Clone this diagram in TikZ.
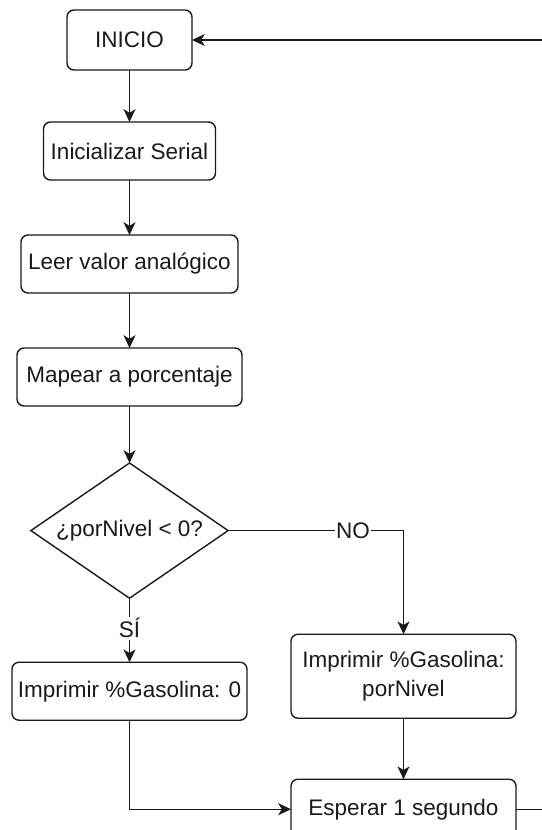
\documentclass[tikz,border=0pt]{standalone}
\usepackage{fontspec}
\setmainfont{Liberation Sans}
\usetikzlibrary{arrows.meta,positioning,shapes.geometric}
\definecolor{Ink}{HTML}{1A1A1A}
\definecolor{Paper}{HTML}{FFFFFF}
\tikzset{
  process/.style={
    rounded corners=5pt, draw=Ink, line width=1pt, fill=Paper, text=Ink,
    minimum width=5.625cm, minimum height=1.45cm, align=center,
    inner sep=2pt, outer sep=0pt, font=\fontsize{16}{20}\selectfont
  },
  decision/.style={
    diamond, aspect=1.46, draw=Ink, line width=1pt, fill=Paper, text=Ink,
    minimum width=4.93cm, minimum height=3.38cm, inner sep=0pt, outer sep=0pt,
    font=\fontsize{16}{20}\selectfont
  },
  branch/.style={fill=Paper, text=Ink, inner sep=1pt, font=\fontsize{16}{20}\selectfont},
  flow/.style={-{Stealth[length=3.2mm,width=3mm,inset=0.9mm]}, line width=1pt, draw=Ink}
}

\begin{document}
\begin{tikzpicture}[node distance=1.375cm]
    \useasboundingbox (0,0) rectangle (13.55,-20.75);
    \node[process,minimum width=3.125cm,minimum height=1.5cm] (start) at (3.2375,-1) {INICIO};
    \node[process,below=1.3cm of start,minimum width=4.3cm] (serial) {Inicializar Serial};
    \node[process,below=of serial,minimum width=5.425cm] (read) {Leer valor anal\'ogico};
    \node[process,below=of read] (map) {Mapear a porcentaje};
    \node[decision,below=1.425cm of map] (dec) {¿porNivel < 0?};
    \node[process,below=1.6cm of dec,minimum width=5.875cm] (zero) {Imprimir \%Gasolina: 0};
    \node[process,below=0.9cm of dec.south,xshift=6.85cm,minimum height=2.1cm] (level) {Imprimir \%Gasolina:\\porNivel};
    \node[process,below=1.525cm of level,minimum height=1.5cm] (wait) {Esperar 1 segundo};
    \draw[flow] (start)--(serial);
    \draw[flow] (serial)--(read);
    \draw[flow] (read)--(map);
    \draw[flow] (map)--(dec);
    \draw[flow] (dec.east) -| node[branch,pos=0.356] {NO} (level.north);
    \draw[flow] (dec.south) -- node[branch,pos=0.47] {SÍ} (zero.north);
    \draw[flow] (level)--(wait);
    \draw[flow] (zero.south) |- (wait.west);
    \draw[flow] (wait.east) -- ++(1.2,0) |- (start.east);
  \end{tikzpicture}
\end{document}
